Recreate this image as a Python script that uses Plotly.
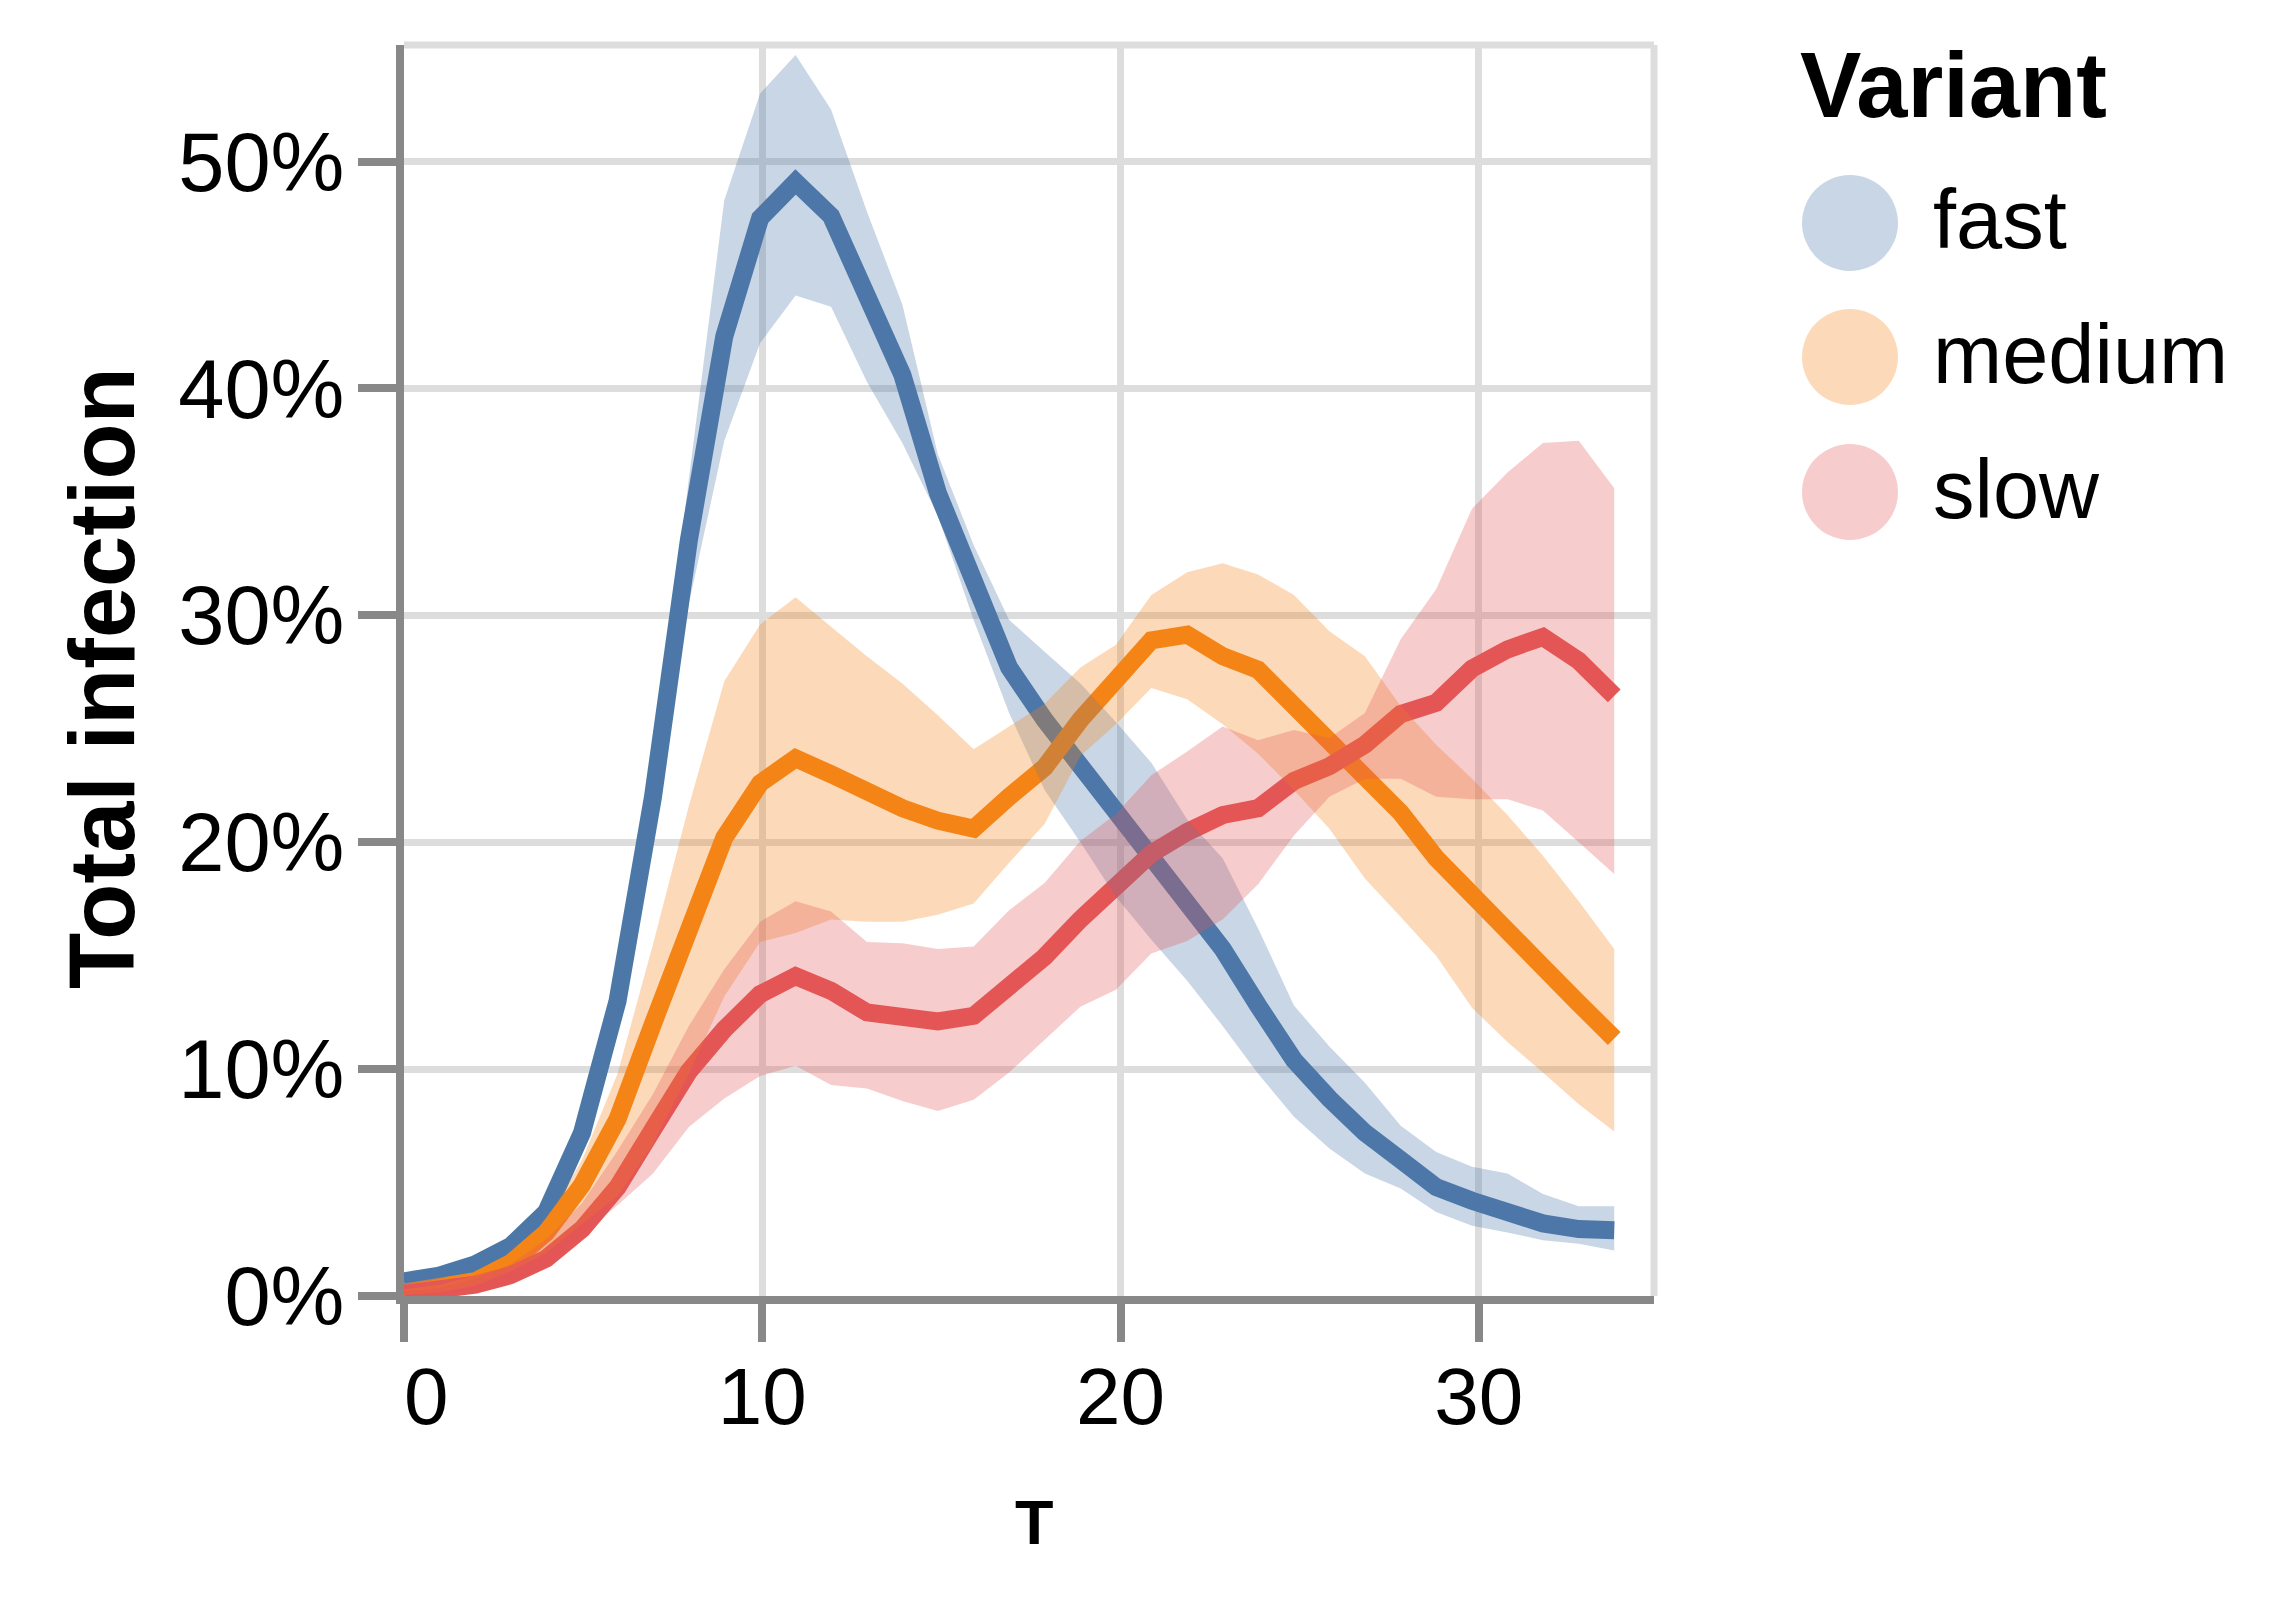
import plotly.graph_objects as go

# ---------------- data (values in %) ----------------
T = [0.0, 0.99, 1.99, 2.98, 3.97, 4.97, 5.96, 6.95, 7.95, 8.94, 9.94, 10.93,
     11.92, 12.92, 13.91, 14.90, 15.90, 16.89, 17.88, 18.88, 19.87, 20.86,
     21.86, 22.85, 23.84, 24.84, 25.83, 26.82, 27.82, 28.81, 29.81, 30.80,
     31.79, 32.79, 33.78]

fast_mean = [0.65, 0.9, 1.4, 2.2, 3.7, 7.2, 13.0, 22.0, 33.3, 42.3, 47.5, 49.1,
             47.6, 44.2, 40.6, 35.4, 31.3, 27.7, 25.4, 23.4, 21.3, 19.5, 17.5,
             15.3, 12.8, 10.4, 8.7, 7.2, 6.0, 4.8, 4.2, 3.7, 3.2, 2.95, 2.9]
fast_hi = [0.8, 1.05, 1.6, 2.5, 4.1, 7.9, 13.8, 23.2, 36.0, 48.3, 53.0, 54.7,
           52.3, 47.8, 43.7, 37.1, 33.1, 29.8, 28.4, 27.0, 25.3, 23.5, 21.0,
           19.3, 16.2, 12.8, 11.0, 9.4, 7.5, 6.35, 5.7, 5.4, 4.5, 3.96, 3.96]
fast_lo = [0.5, 0.75, 1.2, 1.95, 3.4, 6.6, 12.3, 21.0, 30.5, 37.7, 42.0, 44.1,
           43.6, 40.3, 37.6, 34.4, 29.8, 25.7, 22.3, 20.0, 17.6, 15.7, 13.9,
           11.9, 9.8, 7.9, 6.5, 5.4, 4.74, 3.7, 3.1, 2.8, 2.46, 2.3, 2.0]

medium_mean = [0.15, 0.3, 0.65, 1.45, 2.8, 4.9, 7.8, 12.0, 15.9, 20.2, 22.6,
               23.7, 23.0, 22.2, 21.5, 20.95, 20.6, 22.0, 23.3, 25.4, 27.1,
               28.9, 29.15, 28.2, 27.6, 26.0, 24.6, 23.0, 21.3, 19.3, 17.6,
               16.0, 14.5, 12.9, 11.35]
medium_hi = [0.3, 0.5, 0.9, 1.8, 3.3, 6.0, 9.8, 15.5, 21.6, 27.1, 29.6, 30.8,
             29.5, 28.2, 27.0, 25.6, 24.1, 25.1, 26.1, 27.7, 28.7, 30.9, 31.9,
             32.3, 31.8, 30.9, 29.3, 28.2, 26.0, 24.3, 22.8, 21.2, 19.4, 17.4,
             15.3]
medium_lo = [0.05, 0.15, 0.45, 1.1, 1.9, 3.2, 4.4, 6.7, 9.8, 13.2, 15.6, 16.0,
             16.6, 16.5, 16.5, 16.8, 17.3, 19.1, 20.8, 23.8, 25.2, 26.8, 26.3,
             25.2, 23.9, 22.3, 20.6, 18.4, 16.7, 15.0, 12.7, 11.2, 9.85, 8.45,
             7.25]

slow_mean = [0.1, 0.2, 0.5, 0.92, 1.65, 2.95, 4.8, 7.35, 9.9, 11.75, 13.3,
             14.1, 13.45, 12.5, 12.27, 12.1, 12.35, 13.65, 14.95, 16.6, 18.1,
             19.5, 20.45, 21.2, 21.5, 22.7, 23.35, 24.3, 25.65, 26.15, 27.65,
             28.5, 29.05, 28.0, 26.45]
slow_hi = [0.2, 0.35, 0.75, 1.4, 2.5, 4.1, 6.4, 8.9, 11.9, 14.4, 16.5, 17.4,
           16.95, 15.6, 15.55, 15.3, 15.4, 17.0, 18.2, 20.05, 21.25, 22.95,
           24.0, 25.1, 24.5, 24.95, 24.6, 25.7, 28.95, 31.15, 34.7, 36.3, 37.6,
           37.7, 35.6]
slow_lo = [0.02, 0.1, 0.3, 0.6, 1.3, 2.75, 4.0, 5.4, 7.45, 8.7, 9.7, 10.15,
           9.3, 9.15, 8.6, 8.15, 8.65, 9.85, 11.3, 12.75, 13.5, 15.1, 15.65,
           16.6, 18.15, 20.3, 22.0, 22.8, 22.8, 22.0, 21.9, 21.9, 21.4, 20.0,
           18.6]

variants = ["fast", "medium", "slow"]
x_ticks = [0, 10, 20, 30]
x_ticktext = ["\u00a0\u00a00", "10", "20", "30"]
y_ticks = [0, 10, 20, 30, 40, 50]
y_ticktext = ["0%", "10%", "20%", "30%", "40%", "50%"]

# ---------------- style ----------------
FONT = "Liberation Sans, Arial, Helvetica, sans-serif"
line_colors = {"fast": "#4c78a8", "medium": "#f58518", "slow": "#e45756"}
band_colors = {"fast": "rgba(76,120,168,0.3)",
               "medium": "rgba(245,133,24,0.3)",
               "slow": "rgba(228,87,86,0.3)"}
series = {
    "fast": (fast_mean, fast_lo, fast_hi),
    "medium": (medium_mean, medium_lo, medium_hi),
    "slow": (slow_mean, slow_lo, slow_hi),
}

fig = go.Figure()

# lines first
for v in variants:
    mean, lo, hi = series[v]
    fig.add_trace(go.Scatter(x=T, y=mean, mode="lines", name=v,
                             line=dict(color=line_colors[v], width=18),
                             showlegend=False))
# bands drawn over the lines (as in the reference)
for v in variants:
    mean, lo, hi = series[v]
    fig.add_trace(go.Scatter(x=T + T[::-1], y=hi + lo[::-1], mode="lines",
                             fill="toself", fillcolor=band_colors[v],
                             line=dict(width=0), hoverinfo="skip",
                             showlegend=False, name=v + " band"))

OFF = 8  # page body margin
W, H = 2275, 1600
# plot area in screen pixels
SL, SR, ST, SB = 404, 1654, 45, 1296
L, TOP = SL - OFF, ST - OFF
R, B = W - (SR - OFF), H - (SB - OFF)
PW, PH = SR - SL, SB - ST


def px(X):
    return (X - SL) / PW


def py(Y):
    return (SB - Y) / PH


axis_common = dict(showgrid=True, gridcolor="#dddddd", gridwidth=7,
                   showline=True, linecolor="#888888", linewidth=8,
                   ticks="outside", ticklen=38, tickwidth=8,
                   tickcolor="#888888", zeroline=False)

fig.update_layout(
    width=W, height=H,
    margin=dict(l=L, r=R, t=TOP, b=B, autoexpand=False),
    paper_bgcolor="white", plot_bgcolor="white",
    showlegend=False,
    xaxis=dict(range=[0, 34.89], tickvals=x_ticks, ticktext=x_ticktext,
               ticklabelstandoff=-14,
               tickfont=dict(family=FONT, size=80, color="black"),
               **axis_common),
    yaxis=dict(range=[0, 55.14], tickvals=y_ticks, ticktext=y_ticktext,
               ticklabelstandoff=-3,
               tickfont=dict(family=FONT, size=83, color="black"),
               **axis_common),
)

shapes = [
    dict(type="line", xref="paper", yref="paper", x0=0, x1=1, y0=1, y1=1,
         line=dict(color="#dddddd", width=7), layer="below"),
    dict(type="line", xref="paper", yref="paper", x0=1, x1=1, y0=0, y1=1,
         line=dict(color="#dddddd", width=7), layer="below"),
]
legend_y = {"fast": 223, "medium": 357, "slow": 492}
annotations = []
for v in variants:
    shapes.append(dict(type="circle", xref="paper", yref="paper",
                       xsizemode="pixel", ysizemode="pixel",
                       xanchor=px(1850), yanchor=py(legend_y[v]),
                       x0=-48, x1=48, y0=-48, y1=48,
                       fillcolor=band_colors[v], line=dict(width=0)))
    annotations.append(dict(text=v, xref="paper", yref="paper",
                            x=px(1931), y=py(legend_y[v] - 3),
                            xanchor="left", yanchor="middle", showarrow=False,
                            font=dict(family=FONT, size=83, color="black")))

annotations.append(dict(text="<b>Variant</b>", xref="paper", yref="paper",
                        x=px(1798), y=py(85), xanchor="left", yanchor="middle",
                        showarrow=False,
                        font=dict(family=FONT, size=92, color="black")))
annotations.append(dict(text="<b>Total infection</b>", xref="paper",
                        yref="paper", x=px(102), y=py(678), textangle=-90,
                        xanchor="center", yanchor="middle", showarrow=False,
                        font=dict(family=FONT, size=92, color="black")))
annotations.append(dict(text="<b>T</b>", xref="paper", yref="paper",
                        x=px(1034), y=py(1522), xanchor="center",
                        yanchor="middle", showarrow=False,
                        font=dict(family=FONT, size=63, color="black")))

fig.update_layout(shapes=shapes, annotations=annotations)
fig.write_html("out.html")
